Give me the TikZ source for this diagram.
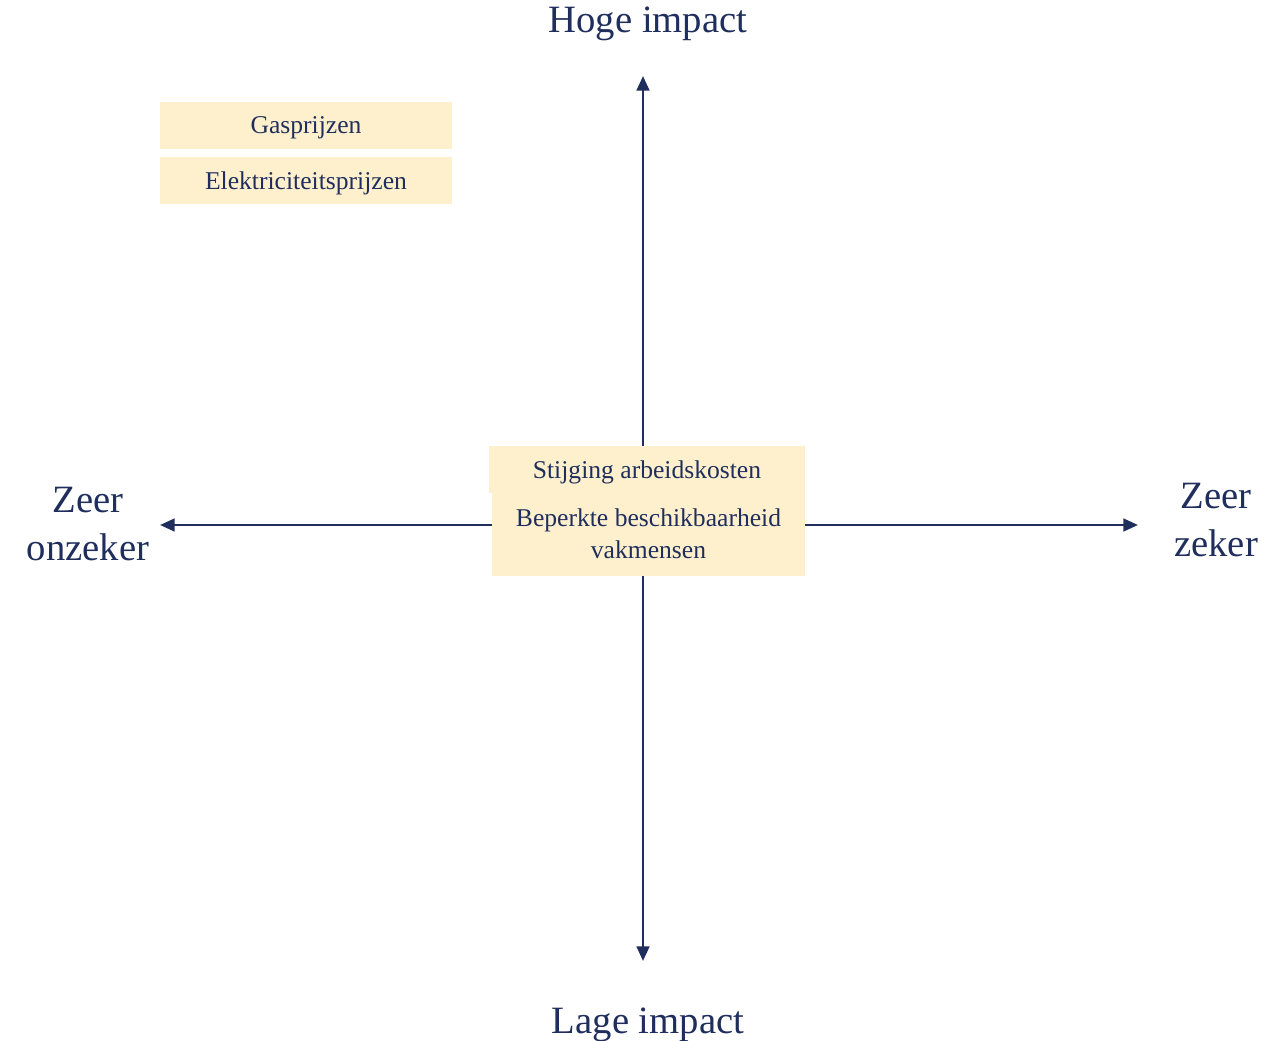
\documentclass[tikz,border=0pt]{standalone}
\usepackage{fontspec}
\setmainfont{Liberation Serif}
\usetikzlibrary{arrows.meta}

\definecolor{navy}{RGB}{31,46,92}
\definecolor{cream}{RGB}{255,240,205}

\begin{document}
\begin{tikzpicture}[
        x=0.75pt,y=-0.75pt,
        axis/.style={draw=navy,line width=1.9pt,{Triangle[length=11pt,width=9.5pt]}-{Triangle[length=11pt,width=9.5pt]}},
        factor/.style={fill=cream,text=navy,inner sep=0pt,text depth=0pt,align=center,font=\fontsize{19.2}{24}\selectfont},
        pole/.style={text=navy,inner sep=0pt,align=center,font=\fontsize{29}{36.5}\selectfont}
      ]
      \useasboundingbox (0,0) rectangle (1284,1041);

      % axes
      \coordinate (top) at (643,76);
      \coordinate (bottom) at (643,961);
      \coordinate (left) at (160,525);
      \coordinate (right) at (1138,525);
      \draw[axis] (bottom) -- (top);
      \draw[axis] (left) -- (right);

      % poles
      \node[pole] (hoog) at (648,24) {Hoge impact};
      \node[pole] (laag) at (648,1025) {Lage impact};
      \node[pole] (onzeker) at (88,524) {Zeer\\onzeker};
      \node[pole] (zeker) at (1216,520) {Zeer\\zeker};

      % factors
      \node[factor,minimum width=219pt,minimum height=35.25pt] (gas) at (306,125.5) {Gasprijzen};
      \node[factor,minimum width=219pt,minimum height=35.25pt] (stroom) at (306,180.5) {Elektriciteitsprijzen};
      \node[factor,minimum width=234.75pt,minimum height=62.25pt] (vakmensen) at (648.5,534) {Beperkte beschikbaarheid\\vakmensen};
      \node[factor,minimum width=237pt,minimum height=35.25pt] (arbeid) at (647,469.5) {Stijging arbeidskosten};
    \end{tikzpicture}
\end{document}
